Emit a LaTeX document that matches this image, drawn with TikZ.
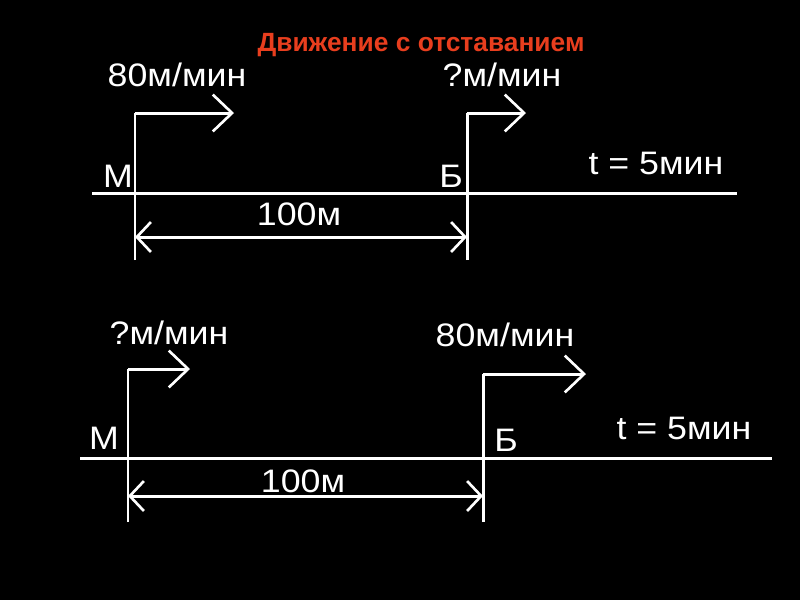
\documentclass[tikz,border=0pt]{standalone}
\usepackage{fontspec}
\setmainfont{Liberation Sans}
\newfontfamily\widefont[FakeStretch=1.1]{Liberation Sans}
\usetikzlibrary{arrows.meta}
\definecolor{titlered}{RGB}{232,62,30}

\begin{document}
\begin{tikzpicture}[
  x=0.02cm, y=-0.02cm,
  every node/.style={text=white, inner sep=0pt},
  lbl/.style={font=\widefont\fontsize{18.5}{20}\selectfont},
  ttl/.style={font=\bfseries\fontsize{15}{17}\selectfont, text=titlered},
  thk/.style={draw=white, line width=1.7pt},
  move/.style={thk, -{Straight Barb[length=11pt, width=21pt, line width=1.5pt]}},
  dim/.style={thk, {Straight Barb[length=8pt, width=17pt, line width=1.5pt]}-{Straight Barb[length=8pt, width=17pt, line width=1.5pt]}},
]
\useasboundingbox (0,0) rectangle (800,600);
\fill[black] (0,0) rectangle (800,600);

% Title
\node[ttl] (title) at (421,45) {Движение с отставанием};

% Upper case -- coordinates
\coordinate (a1) at (92,193);   \coordinate (a2) at (737,193);
\coordinate (am) at (135,113);  \coordinate (amb) at (135,260);
\coordinate (ab) at (467,113);  \coordinate (abb) at (467,260);
\coordinate (amt) at (234,113); \coordinate (abt) at (526,113);
\coordinate (ad1) at (135,237); \coordinate (ad2) at (467,237);

% Upper case -- labels
\node[lbl] (av1) at (177,75) {80м/мин};
\node[lbl] (av2) at (502,75) {?м/мин};
\node[lbl] (aM) at (118,176) {М};
\node[lbl] (aB) at (451,176) {Б};
\node[lbl] (at) at (656,163) {t = 5мин};
\node[lbl] (as) at (299,214) {100м};

% Upper case -- lines
\draw[thk] (a1) -- (a2);
\draw[thk] (amb) -- (am);
\draw[thk] (abb) -- (ab);
\draw[move] (am) -- (amt);
\draw[move] (ab) -- (abt);
\draw[dim] (ad1) -- (ad2);

% Lower case -- coordinates
\coordinate (b1) at (80,458);   \coordinate (b2) at (772,458);
\coordinate (bm) at (128,369);  \coordinate (bmb) at (128,522);
\coordinate (bb) at (483,374);  \coordinate (bbb) at (483,522);
\coordinate (bmt) at (190,369); \coordinate (bbt) at (586,374);
\coordinate (bd1) at (128,496); \coordinate (bd2) at (483,496);

% Lower case -- labels
\node[lbl] (bv1) at (169,333) {?м/мин};
\node[lbl] (bv2) at (505,335) {80м/мин};
\node[lbl] (bM) at (104,438) {М};
\node[lbl] (bB) at (506,440) {Б};
\node[lbl] (bt) at (684,428) {t = 5мин};
\node[lbl] (bs) at (303,481) {100м};

% Lower case -- lines
\draw[thk] (b1) -- (b2);
\draw[thk] (bmb) -- (bm);
\draw[thk] (bbb) -- (bb);
\draw[move] (bm) -- (bmt);
\draw[move] (bb) -- (bbt);
\draw[dim] (bd1) -- (bd2);

\end{tikzpicture}
\end{document}
